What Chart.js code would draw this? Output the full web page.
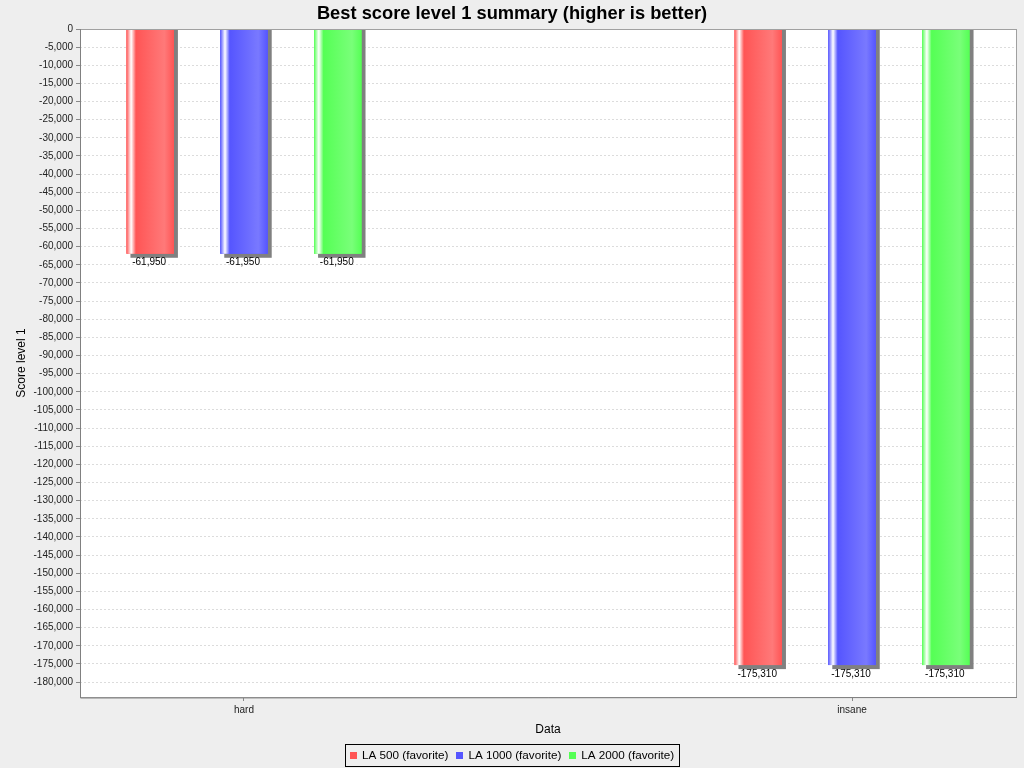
<!DOCTYPE html>
<html>
<head>
<meta charset="utf-8">
<script src="https://cdn.jsdelivr.net/npm/chart.js@4/dist/chart.umd.min.js"></script>
<style>
html,body{margin:0;padding:0;background:#EEEEEE;}
canvas{display:block;}
</style>
</head>
<body>
<canvas id="c" width="1024" height="768"></canvas>
<script>
// ---- data ----
const categories = ['hard', 'insane'];
const seriesNames = ['LA 500 (favorite)', 'LA 1000 (favorite)', 'LA 2000 (favorite)'];
const la500  = [-61950, -175310];
const la1000 = [-61950, -175310];
const la2000 = [-61950, -175310];
const yTickStep = 5000;
const yTickFirst = 0;
const yTickLast = -180000;
const yAxisMin = -184100;
const yAxisMax = 0;

const seriesValues = [la500, la1000, la2000];
const baseColors   = ['rgb(255,85,85)', 'rgb(85,85,255)', 'rgb(85,255,85)'];
const brightColors = ['rgb(255,121,121)', 'rgb(121,121,255)', 'rgb(121,255,121)'];
const FONT = "'Liberation Sans', Arial, sans-serif";
const fmt = v => Number(v).toLocaleString('en-US');

Chart.defaults.font.family = FONT;

const jfreePlugin = {
  id: 'jfree',
  beforeDraw(chart) {
    const {ctx, chartArea: a} = chart;
    ctx.save();
    ctx.fillStyle = '#EEEEEE';
    ctx.fillRect(0, 0, chart.width, chart.height);
    ctx.fillStyle = '#FFFFFF';
    ctx.fillRect(a.left, a.top, a.right - a.left, a.bottom - a.top);
    ctx.restore();
  },
  beforeDatasetsDraw(chart) {
    const {ctx, chartArea: a} = chart;
    ctx.save();
    ctx.beginPath();
    ctx.rect(a.left, a.top, a.right - a.left, a.bottom - a.top);
    ctx.clip();
    ctx.fillStyle = '#808080';
    chart.data.datasets.forEach((ds, di) => {
      chart.getDatasetMeta(di).data.forEach(bar => {
        const {x, y, base, width} = bar.getProps(['x', 'y', 'base', 'width'], true);
        const top = Math.min(y, base), bot = Math.max(y, base);
        ctx.fillRect(x - width / 2 + 4, top, width, bot - top + 4);
      });
    });
    ctx.restore();
  },
  afterDatasetsDraw(chart) {
    const {ctx} = chart;
    ctx.save();
    chart.data.datasets.forEach((ds, di) => {
      chart.getDatasetMeta(di).data.forEach((bar, i) => {
        const {x, y, base, width} = bar.getProps(['x', 'y', 'base', 'width'], true);
        const top = Math.min(y, base), bot = Math.max(y, base);
        const left = x - width / 2;
        const g = ctx.createLinearGradient(left, 0, left + width, 0);
        g.addColorStop(0, baseColors[di]);
        g.addColorStop(0.1, '#FFFFFF');
        g.addColorStop(0.2, baseColors[di]);
        g.addColorStop(0.8, brightColors[di]);
        g.addColorStop(1, baseColors[di]);
        ctx.fillStyle = g;
        ctx.fillRect(left, top, width, bot - top);
        ctx.fillStyle = '#000000';
        ctx.font = '10px ' + FONT;
        ctx.textAlign = 'center';
        ctx.textBaseline = 'alphabetic';
        ctx.fillText(fmt(ds.data[i].y), x - 1, bot + 11.5);
      });
    });
    ctx.restore();
  },
  afterDraw(chart) {
    const {ctx, chartArea: a} = chart;
    ctx.save();
    // plot outline
    ctx.strokeStyle = '#A0A0A0';
    ctx.lineWidth = 1;
    ctx.strokeRect(a.left + 0.5, a.top + 0.5, a.right - a.left, a.bottom - a.top);
    ctx.strokeStyle = '#808080';
    ctx.beginPath();
    ctx.moveTo(a.left + 0.5, a.top);
    ctx.lineTo(a.left + 0.5, a.bottom + 1);
    ctx.lineTo(a.right + 1, a.bottom + 0.5);
    ctx.stroke();
    // legend
    ctx.font = '11.7px ' + FONT;
    const items = chart.data.datasets.map((d, i) => ({
      text: d.label, w: ctx.measureText(d.label).width, c: baseColors[i]
    }));
    const sq = 7, gapT = 5, gapI = 8, pad = 5;
    const total = pad * 2 + items.reduce((s, it) => s + sq + gapT + it.w, 0) + gapI * (items.length - 1);
    const x0 = Math.round(chart.width / 2 - total / 2);
    const by = 744, bh = 22;
    ctx.strokeStyle = '#000000';
    ctx.strokeRect(x0 + 0.5, by + 0.5, Math.round(total), bh);
    let x = x0 + pad;
    ctx.textBaseline = 'middle';
    ctx.textAlign = 'left';
    items.forEach(it => {
      ctx.fillStyle = it.c;
      ctx.fillRect(Math.round(x), by + 8, sq, sq);
      x += sq + gapT;
      ctx.fillStyle = '#000000';
      ctx.fillText(it.text, x, by + 11.5);
      x += it.w + gapI;
    });
    ctx.restore();
  }
};

const datasets = seriesNames.map((name, si) => ({
  label: name,
  data: categories.map((c, i) => ({x: i, y: seriesValues[si][i]})),
  backgroundColor: baseColors[si],
  borderWidth: 0,
  inflateAmount: 0,
  categoryPercentage: 0.4628,
  barPercentage: 0.506
}));

new Chart(document.getElementById('c'), {
  type: 'bar',
  data: { datasets },
  options: {
    responsive: false,
    animation: false,
    devicePixelRatio: 1,
    layout: { padding: { left: 8, right: 8, top: 0, bottom: 31 } },
    plugins: {
      legend: { display: false },
      tooltip: { enabled: false },
      title: {
        display: true,
        text: 'Best score level 1 summary (higher is better)',
        color: '#000000',
        font: { size: 18.3, weight: 'bold', family: FONT },
        padding: { top: 3, bottom: 4.04 }
      }
    },
    scales: {
      x: {
        type: 'linear',
        min: -0.2697,
        max: 1.2697,
        offset: false,
        afterBuildTicks: axis => { axis.ticks = categories.map((c, i) => ({value: i})); },
        afterFit: axis => { axis.height = 40; },
        ticks: {
          autoSkip: false,
          maxRotation: 0,
          padding: 3,
          color: '#222222',
          font: { size: 10 },
          callback: v => categories[Math.round(v)]
        },
        grid: { offset: false, drawOnChartArea: false, drawTicks: true, tickLength: 4, tickColor: '#888888' },
        border: { display: false },
        title: {
          display: true, text: 'Data', color: '#000000',
          font: { size: 12 }, padding: { top: 0, bottom: 0 }
        }
      },
      y: {
        type: 'linear',
        min: yAxisMin,
        max: yAxisMax,
        afterFit: axis => { axis.width = 72; },
        afterBuildTicks: axis => {
          const t = [];
          for (let v = yTickFirst; v >= yTickLast; v -= yTickStep) t.push({value: v});
          axis.ticks = t;
        },
        ticks: {
          autoSkip: false,
          padding: 3,
          color: '#222222',
          font: { size: 10 },
          callback: v => fmt(v)
        },
        grid: { color: '#DCDCDC', lineWidth: 1, drawTicks: true, tickLength: 4, tickColor: '#888888' },
        border: { display: false, dash: [2, 2] },
        title: {
          display: true, text: 'Score level 1', color: '#000000',
          font: { size: 12 }, padding: { top: 6, bottom: 0 }
        }
      }
    }
  },
  plugins: [jfreePlugin]
});
</script>
</body>
</html>
